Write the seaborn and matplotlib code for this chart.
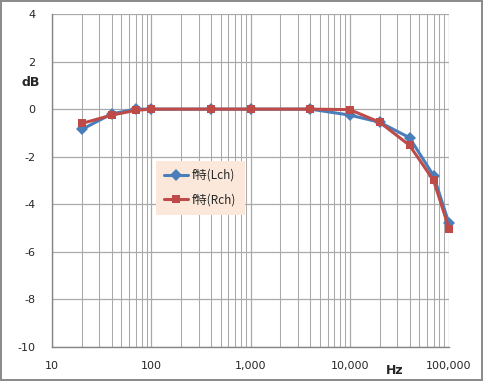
import matplotlib
matplotlib.use("Agg")
import matplotlib.pyplot as plt
import seaborn as sns
import pandas as pd
from matplotlib.ticker import FixedLocator, FixedFormatter, LogLocator, NullFormatter

freq = [20, 40, 70, 100, 400, 1000, 4000, 10000, 20000, 40000, 70000, 100000]
lch = [-0.85, -0.2, 0.0, 0.0, 0.0, 0.0, 0.0, -0.25, -0.55, -1.2, -2.8, -4.8]
rch = [-0.6, -0.25, -0.05, 0.0, 0.0, 0.0, 0.0, -0.02, -0.55, -1.52, -3.0, -5.02]
series_names = ["f特(Lch)", "f特(Rch)"]
y_ticks = [4, 2, 0, -2, -4, -6, -8, -10]
x_ticks = [10, 100, 1000, 10000, 100000]
x_labels = ["10", "100", "1,000", "10,000", "100,000"]

df = pd.DataFrame({
    "Hz": freq * 2,
    "dB": lch + rch,
    "ch": [series_names[0]] * len(freq) + [series_names[1]] * len(freq),
})

sns.set_style("white")
plt.rcParams["font.family"] = ["DejaVu Sans", "Noto Sans CJK JP"]
plt.rcParams["axes.unicode_minus"] = False

fig = plt.figure(figsize=(4.83, 3.81), dpi=100, edgecolor="#8c8c8c", linewidth=1.5)
ax = fig.add_axes([0.1077, 0.0892, 0.8219, 0.8741])

grid_c = "#a9a9a9"
ax.set_xscale("log")
ax.set_xlim(10, 100000)
ax.set_ylim(-10, 4)
ax.yaxis.set_major_locator(FixedLocator(y_ticks))
ax.xaxis.set_major_locator(FixedLocator(x_ticks))
ax.xaxis.set_major_formatter(FixedFormatter(x_labels))
ax.xaxis.set_minor_locator(LogLocator(base=10, subs=range(2, 10)))
ax.xaxis.set_minor_formatter(NullFormatter())
ax.grid(True, which="major", axis="both", color=grid_c, linewidth=0.9)
ax.grid(True, which="minor", axis="x", color=grid_c, linewidth=0.75)
ax.set_axisbelow(True)

sns.lineplot(data=df, x="Hz", y="dB", hue="ch", style="ch",
             palette=["#4a7ebb", "#be4b48"], markers=["D", "s"], dashes=False,
             linewidth=2.2, markersize=6, markeredgewidth=0, ax=ax)
for ln in ax.lines:
    ln.set_clip_on(False)

for s in ["top", "right"]:
    ax.spines[s].set_visible(False)
for s in ["left", "bottom"]:
    ax.spines[s].set_color("#868686")
    ax.spines[s].set_linewidth(1.0)

ax.tick_params(axis="y", which="major", direction="out", length=4, color="#868686",
               labelsize=8, pad=8)
ax.tick_params(axis="x", which="major", direction="out", length=0, labelsize=8, pad=10)
ax.tick_params(axis="x", which="minor", length=0)

ax.set_xlabel("")
ax.set_ylabel("")
fig.text(22 / 483, 1 - 82 / 381, "dB", fontsize=9, fontweight="bold", ha="left", va="center")
fig.text(395 / 483, 1 - 370 / 381, "Hz", fontsize=9, fontweight="bold", ha="center", va="center")

leg = ax.legend(loc="upper left", bbox_to_anchor=(0.262, 0.56), frameon=True,
                fontsize=8.5, handlelength=2.0, borderpad=0.7, labelspacing=1.0,
                handletextpad=0.35, fancybox=False, borderaxespad=0)
leg.get_frame().set_facecolor("#fce8da")
leg.get_frame().set_edgecolor("none")
leg.get_frame().set_alpha(1.0)
for t in leg.get_texts():
    t.set_family(["Noto Sans CJK JP", "DejaVu Sans"])

fig.savefig("out.png", dpi=100, edgecolor=fig.get_edgecolor(), facecolor="white")
